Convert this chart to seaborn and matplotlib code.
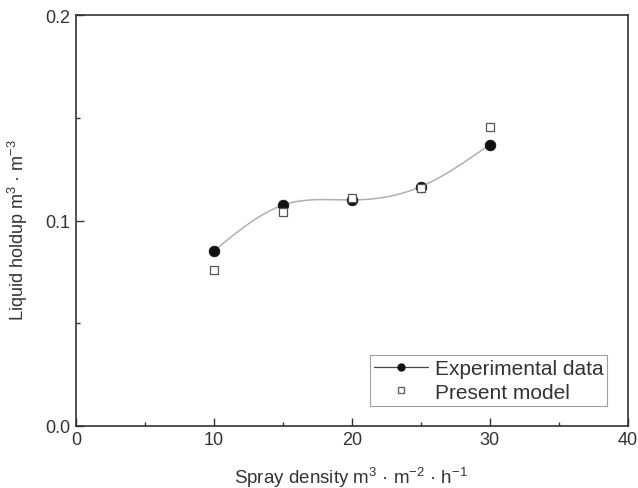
import matplotlib
matplotlib.use("Agg")
import matplotlib.pyplot as plt
import numpy as np
import pandas as pd
import seaborn as sns

spray_density = [10, 15, 20, 25, 30]
holdup_experimental = [0.0852, 0.1075, 0.1100, 0.1165, 0.1370]
holdup_model = [0.0760, 0.1040, 0.1110, 0.1160, 0.1455]


def natural_spline(x, y, n=200):
    # smooth curve through the measured points (natural cubic spline)
    x = np.asarray(x, float)
    y = np.asarray(y, float)
    k = len(x)
    h = np.diff(x)
    a = np.zeros((k, k))
    b = np.zeros(k)
    a[0, 0] = a[-1, -1] = 1
    for i in range(1, k - 1):
        a[i, i - 1] = h[i - 1]
        a[i, i] = 2 * (h[i - 1] + h[i])
        a[i, i + 1] = h[i]
        b[i] = 3 * ((y[i + 1] - y[i]) / h[i] - (y[i] - y[i - 1]) / h[i - 1])
    c = np.linalg.solve(a, b)
    xs = np.linspace(x[0], x[-1], n)
    ys = np.empty_like(xs)
    for j, xv in enumerate(xs):
        i = min(np.searchsorted(x, xv, side="right") - 1, k - 2)
        dx = xv - x[i]
        bb = (y[i + 1] - y[i]) / h[i] - h[i] * (2 * c[i] + c[i + 1]) / 3
        d = (c[i + 1] - c[i]) / (3 * h[i])
        ys[j] = y[i] + bb * dx + c[i] * dx ** 2 + d * dx ** 3
    return xs, ys


sns.set_style("ticks")
plt.rcParams['font.family'] = ['Liberation Sans', 'DejaVu Sans']
plt.rcParams['mathtext.fontset'] = 'custom'
plt.rcParams['mathtext.rm'] = 'Liberation Sans'
plt.rcParams['mathtext.it'] = 'Liberation Sans'
plt.rcParams['mathtext.default'] = 'regular'
text_color = '#333333'

fig = plt.figure(figsize=(6.38, 4.89), dpi=100)
ax = fig.add_axes([0.119, 0.127, 0.865, 0.840])

xs, ys = natural_spline(spray_density, holdup_experimental)
curve = pd.DataFrame({'x': xs, 'y': ys})
sns.lineplot(data=curve, x='x', y='y', ax=ax, color='#b0b0b0', lw=1.1, zorder=1)

exp_df = pd.DataFrame({'x': spray_density, 'y': holdup_experimental})
mod_df = pd.DataFrame({'x': spray_density, 'y': holdup_model})
sns.scatterplot(data=exp_df, x='x', y='y', ax=ax, color='#111111', marker='o',
                s=58, edgecolor='#111111', zorder=3)
sns.scatterplot(data=mod_df, x='x', y='y', ax=ax, color='white', marker='s',
                s=36, edgecolor='#555555', linewidth=0.9, zorder=4)

ax.set_xlim(0, 40)
ax.set_ylim(0, 0.2)
ax.set_xticks([0, 10, 20, 30, 40])
ax.set_xticks([5, 15, 25, 35], minor=True)
ax.set_yticks([0.0, 0.1, 0.2])
ax.set_yticklabels(['0.0', '0.1', '0.2'])
ax.set_yticks([0.05, 0.15], minor=True)
ax.tick_params(which='both', direction='in', colors='#333333', labelcolor=text_color,
               labelsize=13, width=1.0, top=False, right=False)
ax.tick_params(which='major', length=6, pad=4)
ax.tick_params(which='minor', length=3)
for sp in ax.spines.values():
    sp.set_color('#333333')
    sp.set_linewidth(1.2)

ax.set_xlabel('Spray density m$^{3}$ · m$^{-2}$ · h$^{-1}$', fontsize=13.5, color=text_color)
ax.set_ylabel('Liquid holdup m$^{3}$ · m$^{-3}$', fontsize=13, color=text_color)
ax.xaxis.set_label_coords(0.499, -0.095)
ax.yaxis.set_label_coords(-0.084, 0.479)

handles = [
    plt.Line2D([0], [0], color='#444444', lw=0.9, marker='o', markersize=5,
               markerfacecolor='#111111', markeredgecolor='#111111', label='Experimental data'),
    plt.Line2D([0], [0], color='none', marker='s', markersize=5,
               markerfacecolor='white', markeredgecolor='#666666', label='Present model'),
]
leg = ax.legend(handles=handles, loc='lower right', bbox_to_anchor=(0.963, 0.049),
                fontsize=15, frameon=True, fancybox=False, edgecolor='#888888',
                handlelength=2.6, handletextpad=0.3, borderpad=0.2, labelspacing=0.2,
                borderaxespad=0)
leg.get_frame().set_linewidth(0.8)
for t in leg.get_texts():
    t.set_color(text_color)

fig.savefig('out.png', dpi=100)
